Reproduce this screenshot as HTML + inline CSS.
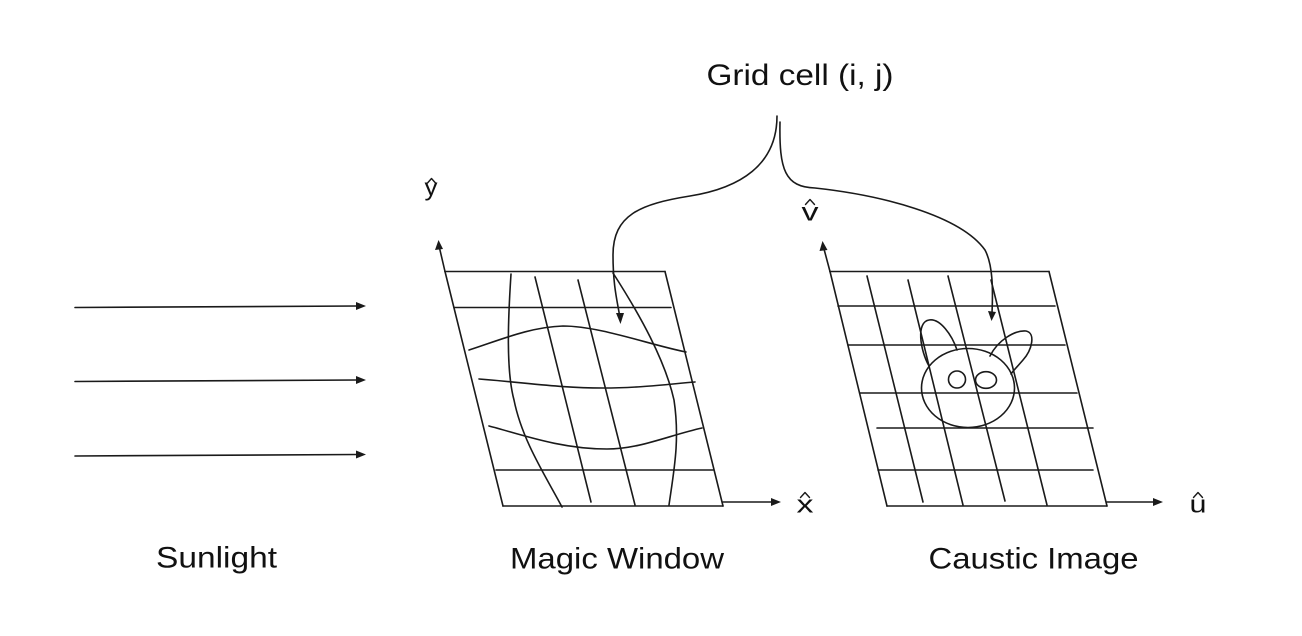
<!DOCTYPE html>
<html>
<head>
<meta charset="utf-8">
<style>
  html, body { margin: 0; padding: 0; background: #ffffff; }
  body { width: 1302px; height: 636px; overflow: hidden; }
  svg { display: block; }
  text { font-family: "Liberation Sans", Arial, sans-serif; fill: #111; }
</style>
</head>
<body>
<svg width="1302" height="636" viewBox="0 0 1302 636" xmlns="http://www.w3.org/2000/svg">
  <rect x="0" y="0" width="1302" height="636" fill="#fff"/>

  <g stroke="#1a1a1a" stroke-width="1.6" fill="none" stroke-linecap="round" stroke-linejoin="round">
    <!-- Sunlight arrows -->
    <line x1="75" y1="307.5" x2="358" y2="306"/>
    <line x1="75" y1="381.5" x2="358" y2="380"/>
    <line x1="75" y1="456" x2="358" y2="454.5"/>

    <!-- ===== Magic Window ===== -->
    <line x1="445" y1="271.5" x2="665" y2="271.5"/>
    <line x1="503" y1="506" x2="723" y2="506"/>
    <line x1="445" y1="271.5" x2="503" y2="506"/>
    <line x1="665" y1="271.5" x2="723" y2="506"/>
    <line x1="445" y1="271.5" x2="439.5" y2="248"/>
    <line x1="723" y1="502" x2="772" y2="502"/>
    <line x1="454" y1="307.5" x2="671" y2="307.5"/>
    <line x1="496" y1="470" x2="713" y2="470"/>
    <path d="M469,350 C500,340 530,327 563,326 C600,326 650,345 686,352"/>
    <path d="M479,379 C530,383 560,388 603,388 C640,388 670,384 695,382"/>
    <path d="M489,426 C520,434 560,449 607,449 C640,449 670,435 702,428"/>
    <path d="M511,274 C508,320 506,370 514,400 C522,440 545,475 562,507"/>
    <line x1="535" y1="277" x2="591" y2="502"/>
    <line x1="578" y1="280" x2="635" y2="505"/>
    <path d="M613,273 C640,315 665,360 674,400 C680,440 674,470 669,505"/>

    <!-- ===== Caustic Image ===== -->
    <line x1="830" y1="271.5" x2="1049" y2="271.5"/>
    <line x1="887" y1="506" x2="1107" y2="506"/>
    <line x1="830" y1="271.5" x2="887" y2="506"/>
    <line x1="1049" y1="271.5" x2="1107" y2="506"/>
    <line x1="830" y1="271.5" x2="824" y2="249"/>
    <line x1="1107" y1="502" x2="1154" y2="502"/>
    <line x1="838" y1="306" x2="1055" y2="306"/>
    <line x1="848" y1="345" x2="1065" y2="345"/>
    <line x1="860" y1="393" x2="1077" y2="393"/>
    <line x1="877" y1="428" x2="1093" y2="428"/>
    <line x1="878" y1="470" x2="1093" y2="470"/>
    <line x1="867" y1="276" x2="923" y2="502"/>
    <line x1="908" y1="280" x2="963" y2="505"/>
    <line x1="948" y1="276" x2="1005" y2="501"/>
    <line x1="991" y1="280" x2="1047" y2="505"/>

    <!-- bunny -->
    <ellipse cx="968" cy="388" rx="46.5" ry="39.5"/>
    <ellipse cx="957" cy="379.5" rx="8.5" ry="8.5"/>
    <ellipse cx="986" cy="380" rx="10.5" ry="8.3"/>
    <path d="M929,366 C920,350 916,322 929,320 C940,318 952,335 957,350"/>
    <path d="M990,356 C998,340 1015,330 1026,331 C1036,333 1032,350 1023,360 C1017,367 1013,371 1011,374"/>

    <!-- connectors -->
    <path d="M777,116 C777,165 740,188 690,196 C640,204 613,215 613,255 C613,285 617,300 619.5,315"/>
    <path d="M780,122 C779,170 785,187 815,188 C880,195 960,215 985,250 C993,265 993,290 992,313"/>

    <!-- hats -->
    <polyline points="427.5,183 431.5,178.5 435.5,183" stroke-width="1.4"/>
    <polyline points="800.5,497.5 805,492.5 809.5,497.5" stroke-width="1.4"/>
    <polyline points="805.5,204.5 810,199.5 814.5,204.5" stroke-width="1.4"/>
    <polyline points="1193.5,497.5 1198,492.5 1202.5,497.5" stroke-width="1.4"/>
  </g>

  <!-- arrowheads -->
  <g fill="#1a1a1a" stroke="none">
    <polygon points="366,306 356,302 356,310"/>
    <polygon points="366,380 356,376 356,384"/>
    <polygon points="366,454.5 356,450.5 356,458.5"/>
    <polygon points="438.5,240 435,250 443,249"/>
    <polygon points="781,502 771,498 771,506"/>
    <polygon points="822.5,241 819.5,251 827.5,250"/>
    <polygon points="1163,502 1153,498 1153,506"/>
    <polygon points="620.5,324 616,313 624,313"/>
    <polygon points="991.5,321 988,311 996,312"/>
  </g>

  <!-- labels -->
  <text x="706.5" y="85" font-size="30" textLength="187" lengthAdjust="spacingAndGlyphs">Grid cell (i, j)</text>
  <text x="156" y="567.5" font-size="30" textLength="121" lengthAdjust="spacingAndGlyphs">Sunlight</text>
  <text x="510" y="568.5" font-size="30" textLength="214" lengthAdjust="spacingAndGlyphs">Magic Window</text>
  <text x="928.5" y="568.5" font-size="30" textLength="210" lengthAdjust="spacingAndGlyphs">Caustic Image</text>

  <!-- axis letters -->
  <text x="424.5" y="195.5" font-size="24" textLength="13" lengthAdjust="spacingAndGlyphs">y</text>
  <text x="796.5" y="512.5" font-size="24" textLength="17" lengthAdjust="spacingAndGlyphs">x</text>
  <text x="801.5" y="220.5" font-size="25" textLength="17" lengthAdjust="spacingAndGlyphs">v</text>
  <text x="1189.5" y="512.5" font-size="24" textLength="17" lengthAdjust="spacingAndGlyphs">u</text>
</svg>
</body>
</html>
